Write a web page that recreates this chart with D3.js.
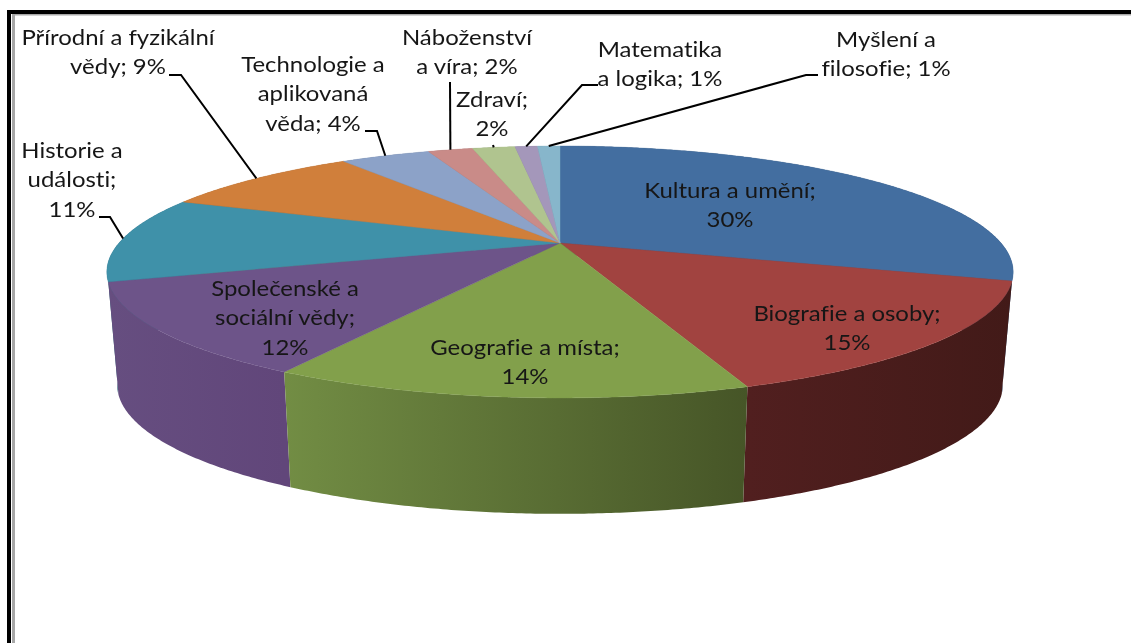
<!DOCTYPE html>
<html>
<head>
<meta charset="utf-8">
<script src="https://cdn.jsdelivr.net/npm/d3@7"></script>
<style>
  html, body { margin: 0; padding: 0; background: #fff; overflow: hidden; }
  text { font-family: Lato, "Open Sans", sans-serif; font-size: 21px; fill: #161616; font-variant-ligatures: none; }
</style>
</head>
<body>
<div id="chart"></div>
<script>
// Data (labels are rounded, the slice shares are not)
const categories = ["Kultura a umění", "Biografie a osoby", "Geografie a místa",
  "Společenské a sociální vědy", "Historie a události", "Přírodní a fyzikální vědy",
  "Technologie a aplikovaná věda", "Náboženství a víra", "Zdraví",
  "Matematika a logika", "Myšlení a filosofie"];
const shares = [29.8, 14.8, 13.75, 11.75, 11.0, 9.0, 4.0, 2.0, 1.9, 1.0, 1.0];
const percentLabels = ["30%", "15%", "14%", "12%", "11%", "9%", "4%", "2%", "2%", "1%", "1%"];

// Colours of the top face and of the wall (left and right end of the gradient)
const topColors = ["#436ea0", "#a14340", "#82a04b", "#6d5489", "#3f91a9", "#d07f3b",
  "#8ca2c8", "#c98b88", "#b0c48f", "#a497ba", "#87b6cb"];
const wallLeft = ["#2f4d72", "#511f1f", "#728d44", "#664e80", "#2c6678", "#94592a",
  "#62728d", "#8d6260", "#7b8965", "#736a82", "#5f7f8e"];
const wallRight = ["#2f4d72", "#421a18", "#465527", "#61467a", "#2c6678", "#94592a",
  "#62728d", "#8d6260", "#7b8965", "#736a82", "#5f7f8e"];

// Label layout: wrapped lines, centre x, first baseline, and the leader's start
const labelLines = [
  ["Kultura a umění;", "30%"], ["Biografie a osoby;", "15%"], ["Geografie a místa;", "14%"],
  ["Společenské a", "sociální vědy;", "12%"], ["Historie a", "události;", "11%"],
  ["Přírodní a fyzikální", "vědy; 9%"], ["Technologie a", "aplikovaná", "věda; 4%"],
  ["Náboženství", "a víra; 2%"], ["Zdraví;", "2%"], ["Matematika", "a logika; 1%"],
  ["Myšlení a", "filosofie; 1%"]
];
const labelX = [730, 847, 525, 285, 72, 118, 313, 467, 492, 660, 886];
const labelY = [198, 321, 355, 296, 158, 45, 72, 45, 107, 57, 47];
const leaders = [null, null, null, null,
  [[99, 217], [110, 217]], [[169, 75], [181, 75]], [[365, 131], [377, 131]],
  [[450, 82]], [[493, 145]], [[598, 85], [582, 85]], [[818, 75], [806, 75]]];

const width = 1131, height = 643;
const cx = 560;
const tilt = 0.23; // perspective factor, near edge looks bigger than the far one
const textStretch = 1.14; // the screenshot's text is wider than the font
const topFace = {hubY: 243, rx: 441, ry: 119.3};
const bottomFace = {hubY: 355, rx: 431, ry: 122.3};

// Project an angle on the round pie onto the screen
function project(face, a) {
  const u = Math.sin(a), v = -Math.cos(a);
  const w = 1 - tilt * v;
  return [cx + face.rx * u / w, face.hubY + face.ry * v / w];
}

function rimAngles(d) {
  const n = Math.max(2, Math.ceil((d.endAngle - d.startAngle) / 0.008));
  return d3.range(n + 1).map(i => d.startAngle + (d.endAngle - d.startAngle) * i / n);
}

const svg = d3.select("#chart").append("svg")
  .attr("width", width)
  .attr("height", height)
  .style("display", "block");

// Frame of the screenshot
svg.append("rect").attr("x", 7).attr("y", 10).attr("width", width).attr("height", 4).attr("fill", "#000");
svg.append("rect").attr("x", 7).attr("y", 10).attr("width", 4).attr("height", height).attr("fill", "#000");
svg.append("rect").attr("x", 12).attr("y", 14).attr("width", width).attr("height", 1.5).attr("fill", "#a8a8a8");
svg.append("rect").attr("x", 12).attr("y", 14).attr("width", 3).attr("height", height).attr("fill", "#a8a8a8");

const pie = d3.pie().sort(null).value(d => d);
const slices = pie(shares);
const line = d3.line();
const defs = svg.append("defs");

defs.append("filter").attr("id", "soft")
  .append("feGaussianBlur").attr("stdDeviation", 0.35);

// Walls first, back ones before front ones; the top face covers the rest
slices.map((d, i) => ({d, i}))
  .sort((a, b) => d3.descending(
    Math.cos((a.d.startAngle + a.d.endAngle) / 2),
    Math.cos((b.d.startAngle + b.d.endAngle) / 2)))
  .forEach(({d, i}) => {
    const angles = rimAngles(d);
    const upper = angles.map(a => project(topFace, a));
    const lower = angles.map(a => project(bottomFace, a)).reverse();
    const xs = upper.map(p => p[0]);
    const grad = defs.append("linearGradient")
      .attr("id", "wall" + i)
      .attr("gradientUnits", "userSpaceOnUse")
      .attr("x1", d3.min(xs)).attr("x2", d3.max(xs))
      .attr("y1", 0).attr("y2", 0);
    grad.append("stop").attr("offset", 0).attr("stop-color", wallLeft[i]);
    grad.append("stop").attr("offset", 1).attr("stop-color", wallRight[i]);
    svg.append("path")
      .attr("d", line(upper.concat(lower)) + "Z")
      .attr("fill", "url(#wall" + i + ")");
  });

slices.forEach((d, i) => {
  const pts = [[cx, topFace.hubY]];
  rimAngles(d).forEach(a => pts.push(project(topFace, a)));
  svg.append("path")
    .attr("class", "slice")
    .attr("d", line(pts) + "Z")
    .attr("fill", topColors[i])
    .attr("stroke", topColors[i])
    .attr("stroke-width", 0.4);
});

// Leader lines end on the rim at the middle of their slice
slices.forEach((d, i) => {
  if (!leaders[i]) return;
  const end = project(topFace, (d.startAngle + d.endAngle) / 2);
  svg.append("path")
    .attr("d", line(leaders[i].concat([end])))
    .attr("fill", "none")
    .attr("stroke", "#000")
    .attr("stroke-width", 2);
});

// Labels
categories.forEach((c, i) => {
  const t = svg.append("text")
    .attr("text-anchor", "middle")
    .attr("filter", "url(#soft)")
    .attr("transform", "translate(" + labelX[i] + ",0) scale(" + textStretch + ",1)")
    .attr("data-category", c)
    .attr("data-value", percentLabels[i]);
  labelLines[i].forEach((s, j) => {
    t.append("tspan")
      .attr("x", 0)
      .attr("y", labelY[i] + j * 29.5)
      .text(s);
  });
});
</script>
</body>
</html>
